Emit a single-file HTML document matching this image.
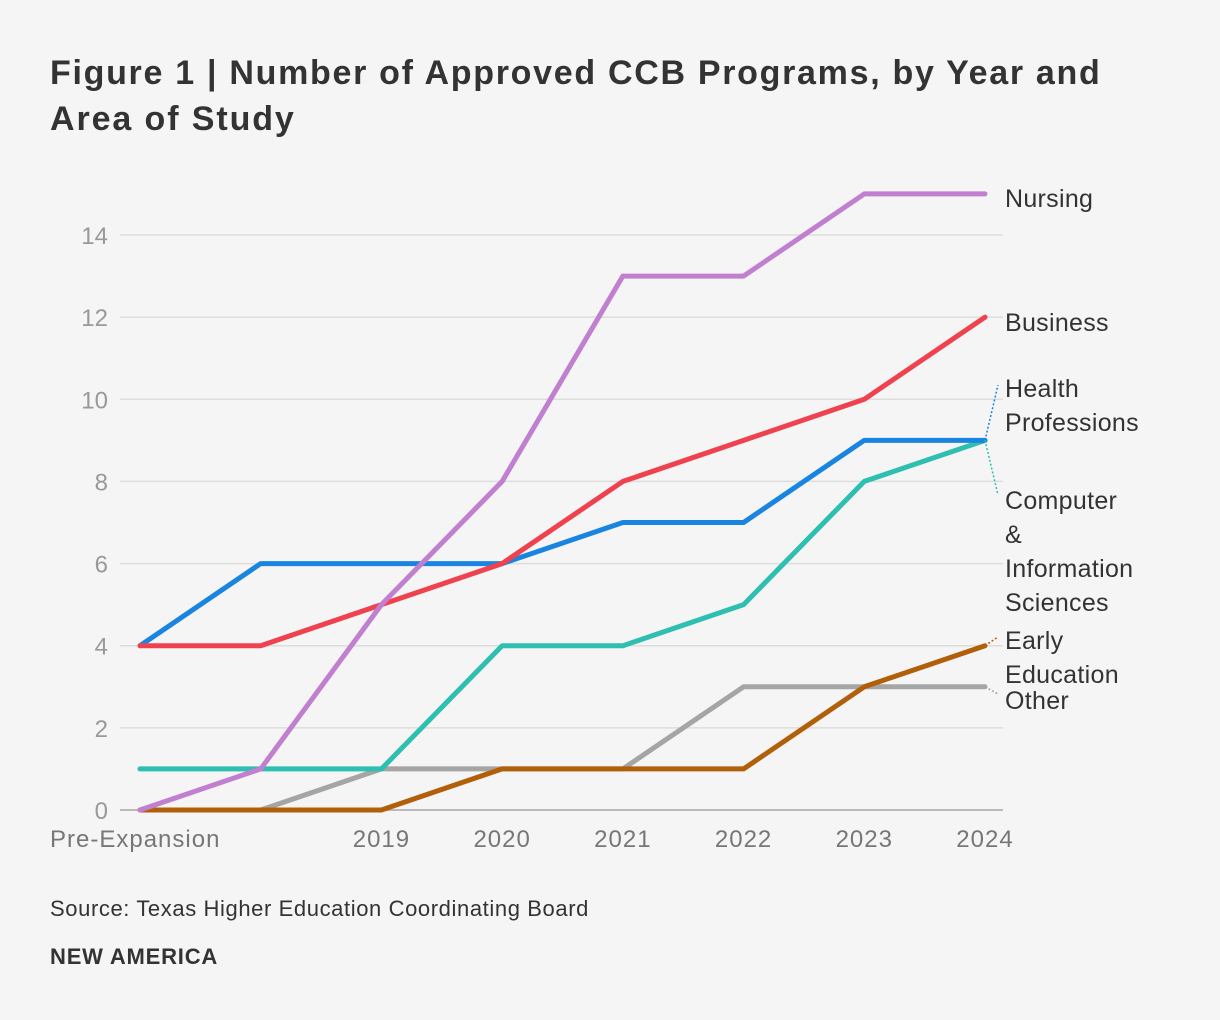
<!DOCTYPE html>
<html><head><meta charset="utf-8"><style>
body{margin:0;background:#f5f5f5;width:1220px;height:1020px;overflow:hidden;font-family:"Liberation Sans",sans-serif}
svg{position:absolute;left:0;top:0}
</style></head><body>
<svg width="1220" height="1020">
<text x="50" y="84" font-size="34" font-weight="bold" fill="#333" letter-spacing="1.7">Figure 1 | Number of Approved CCB Programs, by Year and</text>
<text x="50" y="130" font-size="34" font-weight="bold" fill="#333" letter-spacing="1.9">Area of Study</text>
<g id="grid"></g><g id="lines"></g><g id="labels"></g>
<text x="50" y="916" font-size="22" fill="#333" letter-spacing="0.6">Source: Texas Higher Education Coordinating Board</text>
<text x="50" y="964" font-size="22" font-weight="bold" fill="#333" letter-spacing="0.8">NEW AMERICA</text>
</svg>
<script>
const categories=["Pre-Expansion","","2019","2020","2021","2022","2023","2024"];
const yTicks=[0,2,4,6,8,10,12,14];
const seriesNames=["Other","Early Education","Computer & Information Sciences","Health Professions","Business","Nursing"];
const other=[0,0,1,1,1,3,3,3];
const earlyEd=[0,0,0,1,1,1,3,4];
const computer=[1,1,1,4,4,5,8,9];
const health=[4,6,6,6,7,7,9,9];
const business=[4,4,5,6,8,9,10,12];
const nursing=[0,1,5,8,13,13,15,15];
const NS="http://www.w3.org/2000/svg";
const x=i=>140+i*(985-140)/7;
const y=v=>810-v*(810-235)/14;
function mk(t,a,p){const e=document.createElementNS(NS,t);for(const k in a)e.setAttribute(k,a[k]);p.appendChild(e);return e;}
const grid=document.getElementById('grid');
yTicks.forEach(t=>{
  const l=mk('line',{x1:120,x2:1003,y1:y(t),y2:y(t),stroke:t==0?'#bbb':'#ddd','stroke-width':t==0?2:1.5},grid);
  
  
  const tx=mk('text',{x:108,y:y(t)+9,'font-size':24,fill:'#999','text-anchor':'end'},grid);tx.textContent=t;
  
  
});
categories.forEach((c,i)=>{if(!c)return;
  const tx=mk('text',{x:i==0?50:x(i),y:847,'font-size':24,fill:'#777','letter-spacing':1,'text-anchor':i==0?'start':'middle'},grid);tx.textContent=c;
  
  
});
const data=[other,earlyEd,computer,health,business,nursing];
const colors=["#a5a5a5","#b25f0a","#2ebfb1","#1a85e0","#f0424e","#c17fd0"];
const lg=document.getElementById('lines');
data.forEach((d,s)=>{
  const p=mk('polyline',{points:d.map((v,i)=>x(i)+','+y(v)).join(' '),fill:'none',stroke:colors[s],'stroke-width':5,'stroke-linejoin':'round','stroke-linecap':'round'},lg);
  
  
});
const lab=document.getElementById('labels');
const labelDefs=[[5,["Nursing"],207,null],[4,["Business"],331,null],[3,["Health","Professions"],397,385],[2,["Computer","&","Information","Sciences"],509,495],[1,["Early","Education"],649,637],[0,["Other"],709,694]];
labelDefs.forEach(([s,ls,ty,ly])=>{
  const last=data[s][7];
  if(ly!==null){const l=mk('line',{x1:x(7),y1:y(last),x2:998,y2:ly,stroke:colors[s],'stroke-width':1.5,'stroke-dasharray':'2,2'},lab);
    
    }
  const t=mk('text',{x:1005,y:ty,'font-size':25,fill:'#333','letter-spacing':0.3},lab);
  
  
  ls.forEach((w,k)=>{const ts=mk('tspan',{x:1005,dy:k?34:0},t);ts.textContent=w;});
});
</script>
</body></html>
